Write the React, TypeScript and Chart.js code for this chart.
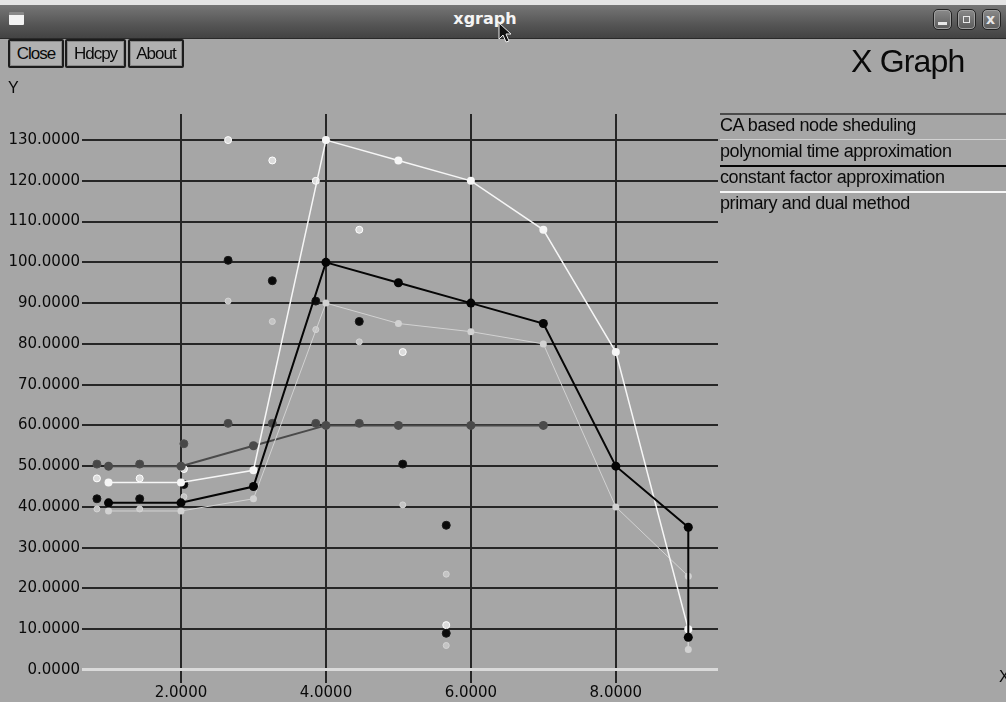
import React, { useEffect, useRef } from "react";
import { Chart, registerables } from "chart.js";

Chart.register(...registerables);

// ---- data ----
const LEGEND_LABELS = [
  "CA based node sheduling",
  "polynomial time approximation",
  "constant factor approximation",
  "primary and dual method",
];

const X_TICKS = [2, 4, 6, 8];
const Y_TICKS = [0, 10, 20, 30, 40, 50, 60, 70, 80, 90, 100, 110, 120, 130];

// connected series
const CA_X = [1, 2, 3, 4, 5, 6, 7];
const CA_Y = [50, 50, 55, 60, 60, 60, 60];
const POLY_X = [1, 2, 3, 4, 5, 6, 7, 8, 9, 9];
const POLY_Y = [39, 39, 42, 90, 85, 83, 80, 40, 23, 5];
const CONST_X = [1, 2, 3, 4, 5, 6, 7, 8, 9, 9];
const CONST_Y = [41, 41, 45, 100, 95, 90, 85, 50, 35, 8];
const PRIMAL_X = [1, 2, 3, 4, 5, 6, 7, 8, 9];
const PRIMAL_Y = [46, 46, 49, 130, 125, 120, 108, 78, 10];

// loose marks
const CA_MARK_X = [0.84, 1.43, 2.04, 2.65, 3.26, 3.86, 4.46];
const CA_MARK_Y = [50.5, 50.5, 55.5, 60.5, 60.5, 60.5, 60.5];
const POLY_MARK_X = [0.84, 1.43, 2.04, 2.65, 3.26, 3.86, 4.46, 5.06, 5.66, 5.66];
const POLY_MARK_Y = [39.5, 39.5, 42.5, 90.5, 85.5, 83.5, 80.5, 40.5, 23.5, 6];
const CONST_MARK_X = [0.84, 1.43, 2.04, 2.65, 3.26, 3.86, 4.46, 5.06, 5.66, 5.66];
const CONST_MARK_Y = [42, 42, 45.5, 100.5, 95.5, 90.5, 85.5, 50.5, 35.5, 9];
const PRIMAL_MARK_X = [0.84, 1.43, 2.04, 2.65, 3.26, 3.86, 4.46, 5.06, 5.66];
const PRIMAL_MARK_Y = [47, 47, 49.3, 130, 125, 120, 108, 78, 11];

const COLORS = ["#4a4a4a", "#d2d2d2", "#050505", "#f6f6f6"];

const pts = (xs: number[], ys: number[]) => xs.map((x, i) => ({ x, y: ys[i] }));

export default function App() {
  const ref = useRef<HTMLCanvasElement | null>(null);

  useEffect(() => {
    if (!ref.current) return;
    const lineDs = (xs: number[], ys: number[], c: string, w: number, r: number, order: number) => ({
      data: pts(xs, ys),
      borderColor: c,
      backgroundColor: c,
      borderWidth: w,
      pointRadius: r,
      pointBorderWidth: 0,
      pointBackgroundColor: c,
      tension: 0,
      order,
    });
    const markDs = (xs: number[], ys: number[], fill: string, border: string, r: number, order: number) => ({
      data: pts(xs, ys),
      showLine: false,
      borderColor: border,
      backgroundColor: fill,
      pointRadius: r,
      pointBorderWidth: 1,
      pointBorderColor: border,
      pointBackgroundColor: fill,
      order,
    });
    const chart = new Chart(ref.current, {
      type: "line",
      data: {
        datasets: [
          lineDs(CONST_X, CONST_Y, COLORS[2], 2, 4.5, 0) as any,
          lineDs(PRIMAL_X, PRIMAL_Y, COLORS[3], 1.5, 4, 1) as any,
          lineDs(POLY_X, POLY_Y, COLORS[1], 1, 3.5, 2) as any,
          lineDs(CA_X, CA_Y, COLORS[0], 2, 4.5, 3) as any,
          markDs(CONST_MARK_X, CONST_MARK_Y, "#0a0a0a", "#1a1a1a", 4, 4) as any,
          markDs(PRIMAL_MARK_X, PRIMAL_MARK_Y, "#dcdcdc", "#ffffff", 3.5, 5) as any,
          markDs(POLY_MARK_X, POLY_MARK_Y, "#c4c4c4", "#d4d4d4", 3, 6) as any,
          markDs(CA_MARK_X, CA_MARK_Y, "#474747", "#505050", 4, 7) as any,
        ],
      },
      options: {
        animation: false,
        responsive: false,
        maintainAspectRatio: false,
        layout: { padding: { top: 114, right: 288, left: 0, bottom: 0 } },
        plugins: {
          legend: { display: false },
          tooltip: { enabled: false },
          title: { display: false },
        },
        scales: {
          x: {
            type: "linear",
            min: 0.634,
            max: 9.41,
            afterBuildTicks: (s: any) => {
              s.ticks = X_TICKS.map((v) => ({ value: v }));
            },
            afterFit: (s: any) => {
              s.height = 19;
            },
            grid: { color: "#262626", lineWidth: 2, drawTicks: false },
            border: { display: false },
            ticks: {
              autoSkip: false,
              maxRotation: 0,
              padding: 1,
              color: "#0a0a0a",
              font: { family: "DejaVu Sans", size: 15 },
              callback: (v: any) => Number(v).toFixed(4),
            },
          },
          y: {
            type: "linear",
            min: -3.2,
            max: 136.4,
            afterBuildTicks: (s: any) => {
              s.ticks = Y_TICKS.map((v) => ({ value: v }));
            },
            afterFit: (s: any) => {
              s.width = 82;
            },
            grid: {
              color: (ctx: any) => (ctx.tick && ctx.tick.value === 0 ? "#dadada" : "#262626"),
              lineWidth: (ctx: any) => (ctx.tick && ctx.tick.value === 0 ? 3 : 2),
              drawTicks: false,
            },
            border: { display: false },
            ticks: {
              autoSkip: false,
              padding: 2,
              color: "#0a0a0a",
              font: { family: "DejaVu Sans", size: 15 },
              callback: (v: any) => Number(v).toFixed(4),
            },
          },
        },
      },
    });
    return () => chart.destroy();
  }, []);

  const btn = (label: string, left: number, width: number) => (
    <div
      key={label}
      style={{
        position: "absolute",
        left,
        top: 39,
        width,
        height: 29,
        boxSizing: "border-box",
        border: "2px solid #1c1c1c",
        borderRadius: 2,
        boxShadow: "inset 0 0 0 1px #8a8a8a",
        background: "#b0b0b0",
        font: "17px 'Liberation Sans', Arial, sans-serif",
        color: "#0a0a0a",
        textAlign: "center",
        lineHeight: "25px",
        letterSpacing: "-1px",
      }}
    >
      {label}
    </div>
  );

  const winBtn = (left: number, sym: React.ReactNode) => (
    <div
      style={{
        position: "absolute",
        left,
        top: 9,
        width: 19,
        height: 21,
        boxSizing: "border-box",
        border: "1px solid #222",
        borderRadius: 5,
        background: "linear-gradient(#8a8a8a, #5a5a5a)",
        boxShadow: "inset 0 0 0 1px #a0a0a0",
      }}
    >
      {sym}
    </div>
  );

  return (
    <div
      style={{
        position: "fixed",
        left: 0,
        top: 0,
        width: 1006,
        height: 702,
        background: "#a6a6a6",
        overflow: "hidden",
      }}
    >
      <canvas
        ref={ref}
        width={1006}
        height={702}
        style={{ position: "absolute", left: 0, top: 0, display: "block" }}
      />
      {/* window title bar */}
      <div style={{ position: "absolute", left: 0, top: 0, width: 1006, height: 5, background: "#e4e4e4" }} />
      <div
        style={{
          position: "absolute",
          left: 0,
          top: 5,
          width: 1006,
          height: 33,
          background: "linear-gradient(#767676, #555555 60%, #434343)",
          borderBottom: "1px solid #2a2a2a",
        }}
      />
      <div
        style={{
          position: "absolute",
          left: 9,
          top: 12,
          width: 15,
          height: 13,
          background: "#f2f2f2",
          borderTop: "3px solid #888",
          boxSizing: "border-box",
          borderRadius: 1,
        }}
      />
      <div
        style={{
          position: "absolute",
          left: 0,
          top: 9,
          width: 970,
          textAlign: "center",
          color: "#f4f4f4",
          font: "bold 16px 'DejaVu Sans', sans-serif",
        }}
      >
        xgraph
      </div>
      <svg style={{ position: "absolute", left: 498, top: 22 }} width="16" height="22">
        <polygon points="1,1 1,17 5,13 8,20 11,19 8,12 13,12" fill="#111" stroke="#eee" strokeWidth="1" />
      </svg>
      {winBtn(933, <div style={{ position: "absolute", left: 4, top: 12, width: 9, height: 3, background: "#e8e8e8" }} />)}
      {winBtn(957, <div style={{ position: "absolute", left: 5, top: 6, width: 7, height: 7, border: "1px solid #e8e8e8", boxSizing: "border-box" }} />)}
      {winBtn(982, <div style={{ position: "absolute", left: 3, top: 1, color: "#e8e8e8", font: "bold 14px 'DejaVu Sans', sans-serif" }}>x</div>)}
      {/* buttons */}
      {btn("Close", 8, 56)}
      {btn("Hdcpy", 65, 61)}
      {btn("About", 128, 56)}
      <div style={{ position: "absolute", left: 8, top: 79, font: "16px 'Liberation Sans', Arial, sans-serif", color: "#0a0a0a" }}>Y</div>
      <div
        style={{
          position: "absolute",
          left: 851,
          top: 43,
          font: "32px 'Liberation Sans', Arial, sans-serif",
          color: "#0a0a0a",
          letterSpacing: "-0.8px",
        }}
      >
        X Graph
      </div>
      <div style={{ position: "absolute", left: 999, top: 668, font: "16px 'Liberation Sans', Arial, sans-serif", color: "#0a0a0a" }}>X</div>
      {/* legend */}
      {LEGEND_LABELS.map((label, i) => (
        <React.Fragment key={label}>
          <div
            style={{
              position: "absolute",
              left: 720,
              top: 113 + i * 26,
              width: 286,
              height: i === 1 ? 1 : 2,
              background: COLORS[i],
            }}
          />
          <div
            style={{
              position: "absolute",
              left: 720,
              top: 115 + i * 26,
              font: "18px 'Liberation Sans', Arial, sans-serif",
              color: "#0a0a0a",
              letterSpacing: "-0.4px",
              whiteSpace: "nowrap",
            }}
          >
            {label}
          </div>
        </React.Fragment>
      ))}
    </div>
  );
}
